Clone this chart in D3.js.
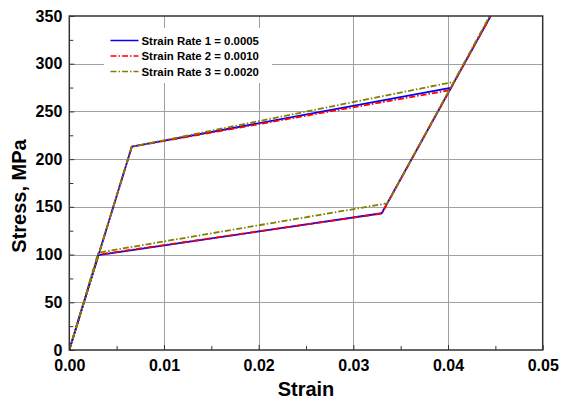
<!DOCTYPE html>
<html>
<head>
<meta charset="utf-8">
<script src="https://cdn.jsdelivr.net/npm/d3@7/dist/d3.min.js"></script>
<style>
  html, body { margin: 0; padding: 0; background: #fff; }
  svg { display: block; }
  text { font-family: "Liberation Sans", Arial, sans-serif; font-weight: bold; fill: #000; }
</style>
</head>
<body>
<svg id="chart" width="562" height="402"></svg>
<script>
// Series names and styles
const seriesNames = ["Strain Rate 1 = 0.0005", "Strain Rate 2 = 0.0010", "Strain Rate 3 = 0.0020"];
const seriesColors = ["#0000ff", "#ff0000", "#808000"];
const seriesDash = [null, "6,2,1.5,2", "6,2,1.5,2"];

// Upper branch: elastic rise, then hardening up to the crossing point
const upperStrain = [
  [0, 0.0066, 0.0404],
  [0, 0.0066, 0.0403],
  [0, 0.0066, 0.0406]
];
const upperStress = [
  [0, 213, 275],
  [0, 213, 272.5],
  [0, 213, 281]
];

// Lower branch: elastic rise, low plateau, then steep rise past the top
const lowerStrain = [
  [0, 0.00306, 0.0330, 0.0445],
  [0, 0.00306, 0.0330, 0.0445],
  [0, 0.00306, 0.0336, 0.0444]
];
const lowerStress = [
  [0, 99.5, 143.3, 350],
  [0, 100, 143, 350],
  [0, 102, 153.7, 350]
];

// Axis ticks
const xTicks = [0, 0.01, 0.02, 0.03, 0.04, 0.05];
const yTicks = [0, 50, 100, 150, 200, 250, 300, 350];
const xMinor = [0.005, 0.015, 0.025, 0.035, 0.045];
const yMinor = [25, 75, 125, 175, 225, 275, 325];

const svg = d3.select("#chart");
const L = 69.3, R = 542.7, T = 16, B = 350;

const x = d3.scaleLinear().domain([0, 0.05]).range([L, R]);
const y = d3.scaleLinear().domain([0, 350]).range([B, T]);

const clipId = "plot-clip";
svg.append("clipPath").attr("id", clipId)
  .append("rect").attr("x", L).attr("y", T).attr("width", R - L).attr("height", B - T);

// Gridlines
const grid = svg.append("g").attr("stroke", "#a0a0a0").attr("stroke-width", 1);
grid.selectAll("line.gx").data(xTicks.slice(1, -1)).join("line")
  .attr("x1", d => Math.round(x(d)) + 0.5).attr("x2", d => Math.round(x(d)) + 0.5)
  .attr("y1", T).attr("y2", B);
grid.selectAll("line.gy").data(yTicks.slice(1, -1)).join("line")
  .attr("y1", d => Math.round(y(d)) + 0.5).attr("y2", d => Math.round(y(d)) + 0.5)
  .attr("x1", L).attr("x2", R);

// Curves
const line = d3.line().x(d => x(d[0])).y(d => y(d[1]));
const curves = svg.append("g").attr("clip-path", `url(#${clipId})`).attr("fill", "none");
seriesNames.forEach((name, i) => {
  const upper = upperStrain[i].map((s, k) => [s, upperStress[i][k]]);
  const lower = lowerStrain[i].map((s, k) => [s, lowerStress[i][k]]);
  [lower, upper].forEach(pts => {
    curves.append("path")
      .attr("d", line(pts))
      .attr("stroke", seriesColors[i])
      .attr("stroke-width", 1.8)
      .attr("stroke-dasharray", seriesDash[i])
      .attr("stroke-linejoin", "round");
  });
});

// Axes with inward ticks
const xAxis = d3.axisBottom(x).tickValues(xTicks).tickFormat(d3.format(".2f"))
  .tickSizeInner(-5).tickSizeOuter(0).tickPadding(10);
const gx = svg.append("g").attr("transform", `translate(0,${B})`).call(xAxis);
gx.select(".domain").remove();
gx.selectAll("text").attr("font-size", 16).attr("dy", "0.71em")
  .style("font-family", '"Liberation Sans", Arial, sans-serif').style("font-weight", "bold");

const xAxisMinor = d3.axisBottom(x).tickValues(xMinor).tickFormat("").tickSizeInner(-4).tickSizeOuter(0);
const gxm = svg.append("g").attr("transform", `translate(0,${B})`).call(xAxisMinor);
gxm.select(".domain").remove();

const yAxis = d3.axisLeft(y).tickValues(yTicks).tickFormat(d3.format("d"))
  .tickSizeInner(-5).tickSizeOuter(0).tickPadding(7);
const gy = svg.append("g").attr("transform", `translate(${L},0)`).call(yAxis);
gy.select(".domain").remove();
gy.selectAll("text").attr("font-size", 16)
  .style("font-family", '"Liberation Sans", Arial, sans-serif').style("font-weight", "bold");

const yAxisMinor = d3.axisLeft(y).tickValues(yMinor).tickFormat("").tickSizeInner(-4).tickSizeOuter(0);
const gym = svg.append("g").attr("transform", `translate(${L},0)`).call(yAxisMinor);
gym.select(".domain").remove();

svg.selectAll(".tick line").attr("stroke", "#333");

// Frame
svg.append("rect").attr("x", L).attr("y", T).attr("width", R - L).attr("height", B - T)
  .attr("fill", "none").attr("stroke", "#333").attr("stroke-width", 1.5);

// Axis titles
svg.append("text").attr("x", (L + R) / 2).attr("y", 396).attr("text-anchor", "middle")
  .attr("font-size", 20).text("Strain");
svg.append("text").attr("transform", "translate(26,196) rotate(-90)")
  .attr("text-anchor", "middle").attr("font-size", 20).text("Stress, MPa");

// Legend
const lg = svg.append("g");
lg.append("rect").attr("x", 104).attr("y", 28).attr("width", 168).attr("height", 55).attr("fill", "#fff");
seriesNames.forEach((name, i) => {
  const ly = 40.5 + i * 15.5;
  lg.append("line").attr("x1", 110.5).attr("x2", 138.5).attr("y1", ly).attr("y2", ly)
    .attr("stroke", seriesColors[i]).attr("stroke-width", 1.5)
    .attr("stroke-dasharray", seriesDash[i]);
  lg.append("text").attr("x", 141.5).attr("y", ly + 4.2).attr("font-size", 11.4).text(name);
});
</script>
</body>
</html>
